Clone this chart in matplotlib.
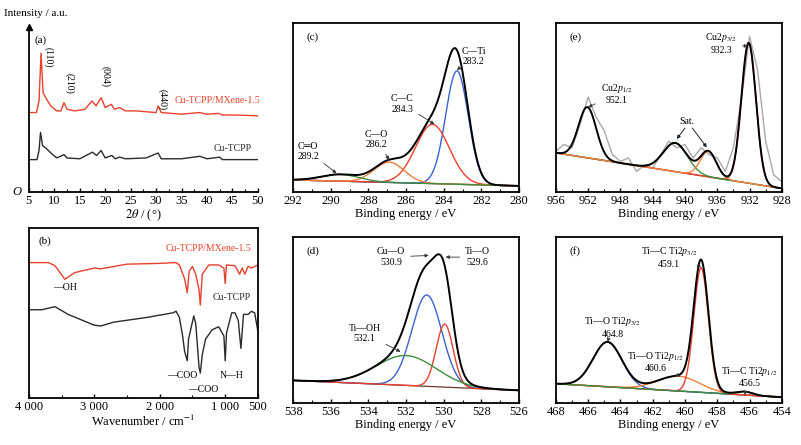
import numpy as np
import matplotlib
matplotlib.use("Agg")
import matplotlib.pyplot as plt

plt.rcParams['font.family'] = ['Liberation Serif', 'DejaVu Serif']
plt.rcParams['mathtext.fontset'] = 'stix'
plt.rcParams['font.size'] = 7.5

RED = '#e8412c'
BLK = '#2b2b2b'
BLUE = '#3b63d0'
GRN = '#3d8f3d'
ORG = '#f07f3c'

# XRD (a)
xrd_mx = [(5,0.48),(6.5,0.48),(7.0,0.55),(7.4,0.84),(7.8,0.60),(8.5,0.56),(9.3,0.52),(10.5,0.49),
          (11.3,0.49),(11.9,0.54),(12.5,0.50),(14,0.49),(16,0.50),(17.4,0.55),(18.2,0.52),(19.2,0.57),
          (20,0.51),(21.2,0.53),(21.8,0.50),(22.8,0.51),(24,0.49),(26,0.49),(28,0.485),(30,0.48),
          (30.4,0.52),(31,0.48),(33,0.475),(35,0.47),(38.5,0.48),(40,0.47),(42.3,0.475),(43,0.465),
          (46,0.465),(50,0.46)]
xrd_cu = [(5,0.195),(6.6,0.195),(7.0,0.25),(7.3,0.36),(7.7,0.28),(8.5,0.26),(9.5,0.23),(10.5,0.205),
          (11.9,0.225),(12.5,0.205),(15,0.2),(17.5,0.24),(18.3,0.22),(19.2,0.25),(20,0.205),(21.3,0.22),
          (22,0.2),(22.8,0.21),(24,0.2),(28,0.205),(30.4,0.235),(31,0.2),(35,0.2),(38.6,0.215),(40,0.2),
          (42.5,0.21),(43,0.195),(50,0.195)]
xrd_peaks = [(7.9, 0.88, '(110)'), (12.0, 0.72, '(210)'), (19.1, 0.76, '(004)'), (30.3, 0.62, '(440)')]

# FTIR (b)
ir_mx = [(4000,0.775),(3700,0.775),(3600,0.755),(3450,0.667),(3300,0.71),(3100,0.73),(3000,0.74),
         (2900,0.735),(2500,0.765),(2000,0.77),(1750,0.775),(1700,0.76),(1620,0.67),(1580,0.58),
         (1550,0.72),(1500,0.75),(1450,0.7),(1400,0.6),(1380,0.5),(1350,0.7),(1250,0.76),(1100,0.76),
         (1020,0.74),(1000,0.64),(980,0.76),(850,0.755),(780,0.7),(740,0.74),(700,0.7),(650,0.75),
         (600,0.74),(500,0.76)]
ir_cu = [(4000,0.47),(3800,0.47),(3600,0.49),(3400,0.44),(3000,0.37),(2900,0.365),(2700,0.39),
         (2200,0.42),(1800,0.45),(1750,0.46),(1700,0.42),(1650,0.3),(1620,0.2),(1580,0.14),(1560,0.28),
         (1480,0.43),(1450,0.38),(1400,0.1),(1380,0.06),(1350,0.18),(1300,0.28),(1200,0.34),(1100,0.36),
         (1020,0.3),(1000,0.14),(980,0.32),(900,0.45),(850,0.45),(800,0.4),(760,0.22),(720,0.44),
         (650,0.44),(600,0.46),(550,0.45),(500,0.33)]

# XPS fits: background (start, end) and peaks (center, height, sigma, colour)
c_bg = (0.07, 0.035)
c_peaks = [(283.3, 0.67, 0.6, BLUE), (284.6, 0.35, 0.9, RED), (286.9, 0.12, 0.8, ORG), (289.5, 0.04, 1.0, GRN)]
e_bg = (0.23, 0.02)
e_peaks = [(932.1, 0.83, 0.9, RED), (952.1, 0.30, 1.1, BLK), (941.2, 0.17, 1.5, GRN), (937.1, 0.15, 1.0, ORG)]
e_raw_x = list(range(956, 927, -1))
e_raw_y = [0.24,0.28,0.26,0.40,0.56,0.44,0.36,0.22,0.18,0.20,0.12,0.16,0.14,0.22,0.30,0.26,0.28,0.20,
           0.26,0.22,0.20,0.12,0.26,0.55,0.92,0.72,0.30,0.10,0.06]
d_bg = (0.137, 0.077)
d_peaks = [(530.9, 0.55, 0.8, BLUE), (529.95, 0.38, 0.45, RED), (532.0, 0.18, 1.6, GRN)]
f_bg = (0.117, 0.036)
f_peaks = [(464.8, 0.27, 0.9, BLUE), (460.4, 0.09, 1.3, ORG), (459.0, 0.75, 0.45, RED), (456.3, 0.02, 0.5, GRN)]

fig = plt.figure(figsize=(8.01, 4.45), dpi=100)

def style(ax, xlim, major, minor, labels=None):
    ax.set_xlim(*xlim)
    ax.set_xticks(major)
    if labels:
        ax.set_xticklabels(labels)
    ax.set_xticks(minor, minor=True)
    ax.set_yticks([])
    ax.tick_params(direction='in', length=3, width=1, labelsize=9, pad=2)
    ax.tick_params(which='minor', direction='in', length=2, width=0.8)
    for s in ax.spines.values():
        s.set_linewidth(1.3)

# (a)
axa = fig.add_axes([0.036, 0.569, 0.286, 0.371])
for d, c in [(xrd_mx, RED), (xrd_cu, BLK)]:
    axa.plot([p[0] for p in d], [p[1] for p in d], color=c, lw=1)
style(axa, (5, 50), range(5, 51, 5), np.arange(7.5, 50, 5))
axa.set_ylim(0, 1.0)
axa.spines['top'].set_visible(False)
axa.spines['right'].set_visible(False)
axa.plot(5, 1.0, marker='^', color='k', ms=5, clip_on=False)
for x, y, t in xrd_peaks:
    axa.text(x, y, t, rotation=270, fontsize=7, ha='left', va='top')
axa.text(6.2, 0.9, '(a)', fontsize=8)
axa.text(42, 0.54, 'Cu-TCPP/MXene-1.5', color=RED, fontsize=7, ha='center')
axa.text(45, 0.25, 'Cu-TCPP', color=BLK, fontsize=7, ha='center')
axa.text(-0.07, 0.0, 'O', style='italic', fontsize=9, transform=axa.transAxes, va='center')
axa.set_xlabel(r'$2\theta$ / (°)', fontsize=9, labelpad=1)
fig.text(0.005, 0.965, 'Intensity / a.u.', fontsize=8)

# (b)
axb = fig.add_axes([0.036, 0.106, 0.286, 0.382])
for d, c in [(ir_mx, RED), (ir_cu, BLK)]:
    axb.plot([p[0] for p in d], [p[1] for p in d], color=c, lw=1)
style(axb, (4000, 500), [4000, 3000, 2000, 1000, 500], np.arange(3500, 500, -1000),
      ['4 000', '3 000', '2 000', '1 000', '500'])
axb.set_ylim(-0.1, 1)
axb.text(3850, 0.9, '(b)', fontsize=8)
axb.text(1250, 0.85, 'Cu-TCPP/MXene-1.5', color=RED, fontsize=7, ha='center')
axb.text(900, 0.53, 'Cu-TCPP', color=BLK, fontsize=7, ha='center')
axb.text(3450, 0.6, '—OH', fontsize=7, ha='center')
axb.text(1650, 0.03, '—COO', fontsize=7, ha='center')
axb.text(1330, -0.06, '—COO', fontsize=7, ha='center')
axb.text(900, 0.03, 'N—H', fontsize=7, ha='center')
axb.set_xlabel('Wavenumber / cm$^{-1}$', fontsize=9, labelpad=1)

def xps(rect, xlim, major, minor, bg, peaks, ylim, tag, raw=None):
    ax = fig.add_axes(rect)
    x = np.linspace(xlim[0], xlim[1], 600)
    base = bg[0] + (bg[1] - bg[0]) * (x - xlim[0]) / (xlim[1] - xlim[0])
    if raw is not None:
        ax.plot(raw[0], raw[1], color='#a8a8a8', lw=1)
    total = base.copy()
    ax.plot(x, base, color='#6b3a2a', lw=0.9)
    for c0, h, s, col in peaks:
        g = h * np.exp(-(x - c0) ** 2 / (2 * s * s))
        total += g
        if col != BLK:
            ax.plot(x, base + g, color=col, lw=1)
    ax.plot(x, total, color='k', lw=1.4)
    style(ax, xlim, major, minor)
    ax.set_ylim(*ylim)
    ax.text(0.06, 0.9, tag, transform=ax.transAxes, fontsize=8)
    ax.set_xlabel('Binding energy / eV', fontsize=9, labelpad=1)
    return ax

def note(ax, txt, xy, xyt):
    ax.annotate(txt, xy=xy, xytext=xyt, fontsize=7, ha='center', va='center',
                arrowprops=dict(arrowstyle='-|>', lw=0.6, color='#333', mutation_scale=5, shrinkB=0))

axc = xps([0.366, 0.569, 0.282, 0.380], (292, 280), range(292, 279, -2), np.arange(291, 280, -2),
          c_bg, c_peaks, (0, 1), '(c)')
note(axc, 'C—Ti\n283.2', (283.3, 0.72), (282.4, 0.80))
note(axc, 'C—C\n284.3', (284.5, 0.40), (286.2, 0.52))
note(axc, 'C—O\n286.2', (286.9, 0.19), (287.6, 0.31))
note(axc, 'C═O\n289.2', (289.7, 0.11), (291.2, 0.24))

axe = xps([0.694, 0.569, 0.282, 0.380], (956, 928), range(956, 927, -4), np.arange(954, 928, -4),
          e_bg, e_peaks, (0, 1), '(e)', raw=(e_raw_x, e_raw_y))
note(axe, 'Cu2$p_{3/2}$\n932.3', (932.2, 0.86), (935.5, 0.88))
note(axe, 'Cu2$p_{1/2}$\n952.1', (952.0, 0.50), (948.5, 0.58))
axe.text(939.8, 0.40, 'Sat.', fontsize=7, ha='center')
axe.annotate('', xy=(941.2, 0.30), xytext=(939.8, 0.39),
             arrowprops=dict(arrowstyle='-|>', lw=0.6, mutation_scale=5))
axe.annotate('', xy=(937.1, 0.25), xytext=(939.3, 0.39),
             arrowprops=dict(arrowstyle='-|>', lw=0.6, mutation_scale=5))

axd = xps([0.366, 0.094, 0.282, 0.373], (538, 526), range(538, 525, -2), np.arange(537, 526, -2),
          d_bg, d_peaks, (0, 1.0), '(d)')
note(axd, 'Cu—O\n530.9', (530.8, 0.89), (532.8, 0.88))
note(axd, 'Ti—O\n529.6', (529.9, 0.88), (528.2, 0.88))
note(axd, 'Ti—OH\n532.1', (532.3, 0.31), (534.2, 0.42))

axf = xps([0.694, 0.094, 0.282, 0.373], (468, 454), range(468, 453, -2), np.arange(467, 454, -2),
          f_bg, f_peaks, (0, 1), '(f)')
note(axf, 'Ti—C Ti2$p_{3/2}$\n459.1', (459.0, 0.82), (461.0, 0.88))
note(axf, 'Ti—O Ti2$p_{3/2}$\n464.8', (464.8, 0.37), (464.5, 0.46))
note(axf, 'Ti—O Ti2$p_{1/2}$\n460.6', (460.3, 0.16), (461.8, 0.25))
note(axf, 'Ti—C Ti2$p_{1/2}$\n456.5', (456.3, 0.05), (456.0, 0.16))

fig.savefig('out.png', dpi=100)
